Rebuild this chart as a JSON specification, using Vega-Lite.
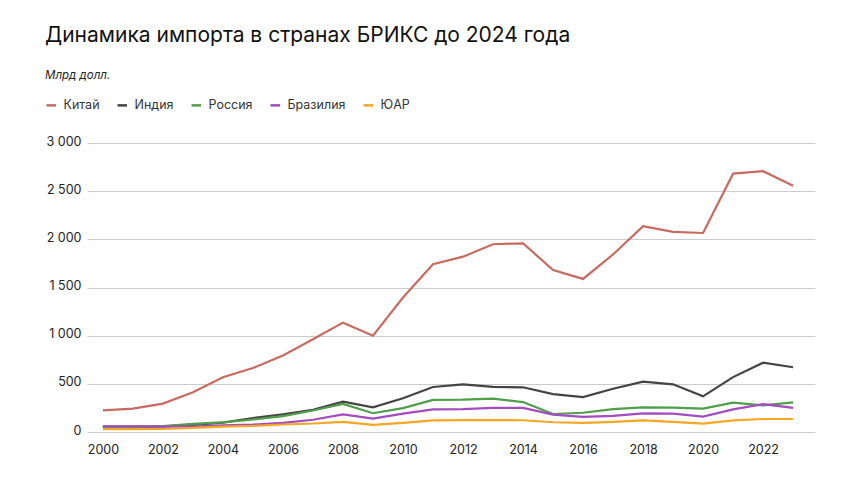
{
  "$schema": "https://vega.github.io/schema/vega-lite/v6.json",
  "width": 728,
  "height": 289,
  "autosize": {"type": "none"},
  "padding": {"left": 87, "top": 143, "right": 45, "bottom": 52},
  "background": "white",
  "view": {"stroke": null},
  "title": {
    "text": "Динамика импорта в странах БРИКС до 2024 года",
    "subtitle": "Млрд долл.",
    "anchor": "start",
    "frame": "group",
    "dx": -42,
    "offset": 18,
    "font": "Inter",
    "fontSize": 21,
    "fontWeight": 400,
    "color": "#111111",
    "subtitleFont": "Inter",
    "subtitleFontSize": 11.5,
    "subtitleFontStyle": "italic",
    "subtitleColor": "#222222",
    "subtitlePadding": 24
  },
  "data": {
    "values": [
      {"year": 2000, "country": "Китай", "value": 225},
      {"year": 2001, "country": "Китай", "value": 243},
      {"year": 2002, "country": "Китай", "value": 295},
      {"year": 2003, "country": "Китай", "value": 413},
      {"year": 2004, "country": "Китай", "value": 568},
      {"year": 2005, "country": "Китай", "value": 664},
      {"year": 2006, "country": "Китай", "value": 795},
      {"year": 2007, "country": "Китай", "value": 962},
      {"year": 2008, "country": "Китай", "value": 1135},
      {"year": 2009, "country": "Китай", "value": 1000},
      {"year": 2010, "country": "Китай", "value": 1396},
      {"year": 2011, "country": "Китай", "value": 1741},
      {"year": 2012, "country": "Китай", "value": 1820},
      {"year": 2013, "country": "Китай", "value": 1949},
      {"year": 2014, "country": "Китай", "value": 1959},
      {"year": 2015, "country": "Китай", "value": 1682},
      {"year": 2016, "country": "Китай", "value": 1589},
      {"year": 2017, "country": "Китай", "value": 1843},
      {"year": 2018, "country": "Китай", "value": 2136},
      {"year": 2019, "country": "Китай", "value": 2077},
      {"year": 2020, "country": "Китай", "value": 2066},
      {"year": 2021, "country": "Китай", "value": 2682},
      {"year": 2022, "country": "Китай", "value": 2707},
      {"year": 2023, "country": "Китай", "value": 2556},

      {"year": 2000, "country": "Индия", "value": 55},
      {"year": 2001, "country": "Индия", "value": 55},
      {"year": 2002, "country": "Индия", "value": 58},
      {"year": 2003, "country": "Индия", "value": 74},
      {"year": 2004, "country": "Индия", "value": 98},
      {"year": 2005, "country": "Индия", "value": 145},
      {"year": 2006, "country": "Индия", "value": 183},
      {"year": 2007, "country": "Индия", "value": 230},
      {"year": 2008, "country": "Индия", "value": 315},
      {"year": 2009, "country": "Индия", "value": 256},
      {"year": 2010, "country": "Индия", "value": 350},
      {"year": 2011, "country": "Индия", "value": 467},
      {"year": 2012, "country": "Индия", "value": 495},
      {"year": 2013, "country": "Индия", "value": 468},
      {"year": 2014, "country": "Индия", "value": 464},
      {"year": 2015, "country": "Индия", "value": 394},
      {"year": 2016, "country": "Индия", "value": 363},
      {"year": 2017, "country": "Индия", "value": 449},
      {"year": 2018, "country": "Индия", "value": 522},
      {"year": 2019, "country": "Индия", "value": 495},
      {"year": 2020, "country": "Индия", "value": 370},
      {"year": 2021, "country": "Индия", "value": 570},
      {"year": 2022, "country": "Индия", "value": 720},
      {"year": 2023, "country": "Индия", "value": 672},

      {"year": 2000, "country": "Россия", "value": 45},
      {"year": 2001, "country": "Россия", "value": 54},
      {"year": 2002, "country": "Россия", "value": 61},
      {"year": 2003, "country": "Россия", "value": 84},
      {"year": 2004, "country": "Россия", "value": 100},
      {"year": 2005, "country": "Россия", "value": 130},
      {"year": 2006, "country": "Россия", "value": 165},
      {"year": 2007, "country": "Россия", "value": 223},
      {"year": 2008, "country": "Россия", "value": 291},
      {"year": 2009, "country": "Россия", "value": 195},
      {"year": 2010, "country": "Россия", "value": 248},
      {"year": 2011, "country": "Россия", "value": 334},
      {"year": 2012, "country": "Россия", "value": 336},
      {"year": 2013, "country": "Россия", "value": 346},
      {"year": 2014, "country": "Россия", "value": 311},
      {"year": 2015, "country": "Россия", "value": 187},
      {"year": 2016, "country": "Россия", "value": 200},
      {"year": 2017, "country": "Россия", "value": 238},
      {"year": 2018, "country": "Россия", "value": 255},
      {"year": 2019, "country": "Россия", "value": 253},
      {"year": 2020, "country": "Россия", "value": 242},
      {"year": 2021, "country": "Россия", "value": 305},
      {"year": 2022, "country": "Россия", "value": 277},
      {"year": 2023, "country": "Россия", "value": 308},

      {"year": 2000, "country": "Бразилия", "value": 59},
      {"year": 2001, "country": "Бразилия", "value": 58},
      {"year": 2002, "country": "Бразилия", "value": 55},
      {"year": 2003, "country": "Бразилия", "value": 55},
      {"year": 2004, "country": "Бразилия", "value": 68},
      {"year": 2005, "country": "Бразилия", "value": 77},
      {"year": 2006, "country": "Бразилия", "value": 95},
      {"year": 2007, "country": "Бразилия", "value": 127},
      {"year": 2008, "country": "Бразилия", "value": 183},
      {"year": 2009, "country": "Бразилия", "value": 139},
      {"year": 2010, "country": "Бразилия", "value": 191},
      {"year": 2011, "country": "Бразилия", "value": 235},
      {"year": 2012, "country": "Бразилия", "value": 237},
      {"year": 2013, "country": "Бразилия", "value": 250},
      {"year": 2014, "country": "Бразилия", "value": 251},
      {"year": 2015, "country": "Бразилия", "value": 180},
      {"year": 2016, "country": "Бразилия", "value": 157},
      {"year": 2017, "country": "Бразилия", "value": 168},
      {"year": 2018, "country": "Бразилия", "value": 193},
      {"year": 2019, "country": "Бразилия", "value": 190},
      {"year": 2020, "country": "Бразилия", "value": 159},
      {"year": 2021, "country": "Бразилия", "value": 235},
      {"year": 2022, "country": "Бразилия", "value": 290},
      {"year": 2023, "country": "Бразилия", "value": 250},

      {"year": 2000, "country": "ЮАР", "value": 30},
      {"year": 2001, "country": "ЮАР", "value": 29},
      {"year": 2002, "country": "ЮАР", "value": 31},
      {"year": 2003, "country": "ЮАР", "value": 42},
      {"year": 2004, "country": "ЮАР", "value": 56},
      {"year": 2005, "country": "ЮАР", "value": 63},
      {"year": 2006, "country": "ЮАР", "value": 78},
      {"year": 2007, "country": "ЮАР", "value": 88},
      {"year": 2008, "country": "ЮАР", "value": 105},
      {"year": 2009, "country": "ЮАР", "value": 74},
      {"year": 2010, "country": "ЮАР", "value": 95},
      {"year": 2011, "country": "ЮАР", "value": 121},
      {"year": 2012, "country": "ЮАР", "value": 123},
      {"year": 2013, "country": "ЮАР", "value": 124},
      {"year": 2014, "country": "ЮАР", "value": 122},
      {"year": 2015, "country": "ЮАР", "value": 101},
      {"year": 2016, "country": "ЮАР", "value": 95},
      {"year": 2017, "country": "ЮАР", "value": 105},
      {"year": 2018, "country": "ЮАР", "value": 120},
      {"year": 2019, "country": "ЮАР", "value": 105},
      {"year": 2020, "country": "ЮАР", "value": 86},
      {"year": 2021, "country": "ЮАР", "value": 120},
      {"year": 2022, "country": "ЮАР", "value": 135},
      {"year": 2023, "country": "ЮАР", "value": 135}
    ]
  },
  "mark": {"type": "line", "strokeWidth": 2.2},
  "encoding": {
    "x": {
      "field": "year",
      "type": "quantitative",
      "scale": {"domain": [1999.47, 2023.73], "nice": false, "zero": false},
      "axis": {
        "title": null,
        "values": [2000, 2002, 2004, 2006, 2008, 2010, 2012, 2014, 2016, 2018, 2020, 2022],
        "format": "d",
        "grid": false,
        "domain": false,
        "ticks": false,
        "labelPadding": 11,
        "labelFont": "Inter",
        "labelFontSize": 12.5,
        "labelColor": "#222222"
      }
    },
    "y": {
      "field": "value",
      "type": "quantitative",
      "scale": {"domain": [0, 3000], "nice": false},
      "axis": {
        "title": null,
        "values": [0, 500, 1000, 1500, 2000, 2500, 3000],
        "labelExpr": "replace(format(datum.value, ','), ',', ' ')",
        "grid": true,
        "gridColor": "#cccccc",
        "gridWidth": 1,
        "domain": false,
        "ticks": false,
        "labelPadding": 6,
        "labelFont": "Inter",
        "labelFontSize": 12.5,
        "labelColor": "#222222",
        "labelBaseline": "bottom",
        "labelOffset": 5
      }
    },
    "color": {
      "field": "country",
      "type": "nominal",
      "sort": ["Китай", "Индия", "Россия", "Бразилия", "ЮАР"],
      "scale": {
        "domain": ["Китай", "Индия", "Россия", "Бразилия", "ЮАР"],
        "range": ["#c96a60", "#444444", "#4f9e4a", "#a24cc0", "#f5a623"]
      },
      "legend": {
        "title": null,
        "orient": "none",
        "direction": "horizontal",
        "legendX": -42,
        "legendY": -44,
        "symbolType": "stroke",
        "symbolSize": 90,
        "symbolStrokeWidth": 2.5,
        "labelFont": "Inter",
        "labelFontSize": 12.5,
        "labelColor": "#333333",
        "labelOffset": 6,
        "columnPadding": 12
      }
    }
  }
}
